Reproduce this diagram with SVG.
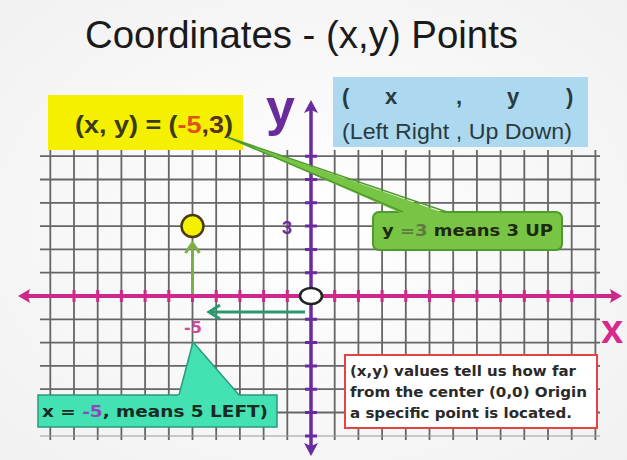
<svg xmlns="http://www.w3.org/2000/svg" width="627" height="460" viewBox="0 0 627 460">
  <style>
    .grid { stroke: #666; stroke-width: 1.8; fill: none; }
    .comic { font-family: "DejaVu Sans", "Liberation Sans", sans-serif; font-weight: bold; }
    .arial { font-family: "Liberation Sans", Arial, sans-serif; }
  </style>
  <defs>
    <radialGradient id="bg" cx="50%" cy="50%" r="70%">
      <stop offset="0" stop-color="#ffffff"/>
      <stop offset="1" stop-color="#f1f1f1"/>
    </radialGradient>
  </defs>
  <rect width="627" height="460" fill="url(#bg)"/>

  <g id="title">
    <text class="arial" x="85" y="48" font-size="39" fill="#1a1a1a" textLength="433" lengthAdjust="spacingAndGlyphs">Coordinates - (x,y) Points</text>
  </g>

  <g id="grid">
    <path class="grid" d="M50.3 150V440M74 150V440M97.7 150V440M121.4 150V440M145.1 150V440M168.8 150V440M192.5 150V440M216.2 150V440M239.9 150V440M263.6 150V440M287.3 150V440M334.7 150V440M358.4 150V440M382.1 150V440M405.8 150V440M429.5 150V440M453.2 150V440M476.9 150V440M500.6 150V440M524.3 150V440M548 150V440M571.7 150V440M595.4 150V440"/>
    <path class="grid" d="M40 156.2H600M40 179.5H600M40 202.8H600M40 226.1H600M40 249.4H600M40 272.7H600M40 319.3H600M40 342.6H600M40 365.9H600M40 389.2H600M40 412.5H600"/>
    <path d="M40 436H600" stroke="#999" stroke-width="1" fill="none"/>
  </g>

  <g id="yellow-label">
    <rect x="48" y="95" width="195" height="55" fill="#f4f000"/>
    <text class="arial" x="75" y="133" font-size="24" font-weight="bold" fill="#3a3a18" textLength="158" lengthAdjust="spacingAndGlyphs">(x, y) = (<tspan fill="#e2501c">-5</tspan><tspan fill="#5a3020">,3</tspan>)</text>
  </g>

  <g id="blue-box">
    <rect x="333" y="77" width="255" height="70" fill="#acd9ef"/>
    <g class="arial" font-size="22" font-weight="bold" fill="#2a3a40">
      <text x="342" y="104">(</text>
      <text x="385" y="104">x</text>
      <text x="456" y="104">,</text>
      <text x="507" y="104">y</text>
      <text x="566" y="104">)</text>
    </g>
    <text class="arial" x="342" y="139" font-size="22" fill="#2a3a40" textLength="230" lengthAdjust="spacingAndGlyphs">(Left Right , Up Down)</text>
  </g>

  <g id="axes">
    <g id="x-axis">
      <path d="M26 296H612" stroke="#cc2a8a" stroke-width="4" fill="none"/>
      <path d="M18 296L30 289L28 296L30 303Z M622 296L610 289L612 296L610 303Z" fill="#cc2a8a"/>
      <path d="M74 290V302M97.7 290V302M121.4 290V302M145.1 290V302M168.8 290V302M192.5 290V302M216.2 290V302M239.9 290V302M263.6 290V302M287.3 290V302M334.7 290V302M358.4 290V302M382.1 290V302M405.8 290V302M429.5 290V302M453.2 290V302M476.9 290V302M500.6 290V302M524.3 290V302M548 290V302M571.7 290V302" stroke="#cc2a8a" stroke-width="3" fill="none"/>
      <text class="arial" x="601" y="343" font-size="40" font-weight="bold" fill="#d62a8a">x</text>
    </g>
    <g id="y-axis">
      <path d="M311 110V448" stroke="#6a2aa0" stroke-width="3.5" fill="none"/>
      <path d="M311 100L304 113L311 110L318 113Z M311 456L304 443L311 446L318 443Z" fill="#6a2aa0"/>
      <path d="M305 156.2H317M305 179.5H317M305 202.8H317M305 226.1H317M305 249.4H317M305 272.7H317M305 319.3H317M305 342.6H317M305 365.9H317M305 389.2H317M305 412.5H317M305 436H317" stroke="#6a2aa0" stroke-width="3" fill="none"/>
      <text class="arial" x="266" y="125" font-size="52" font-weight="bold" fill="#6a2c9c">y</text>
      <text class="arial" x="282" y="234" font-size="18" font-weight="bold" fill="#6a2c9c">3</text>
    </g>
  </g>

  <g id="origin">
    <ellipse cx="311" cy="296" rx="11" ry="8" fill="#ffffff" stroke="#222" stroke-width="2.5"/>
  </g>

  <g id="point">
    <circle cx="192.5" cy="226.1" r="11" fill="#f5ef00" stroke="#4a3a10" stroke-width="2.5"/>
  </g>

  <g id="connectors">
    <g id="up-arrow" stroke="#7ab040" stroke-width="3" fill="none">
      <path d="M192.5 294V244"/>
      <path d="M185.5 253L192.5 243L199.5 253"/>
    </g>
    <g id="left-arrow" stroke="#2a9a6e" stroke-width="3" fill="none">
      <path d="M305 312H210"/>
      <path d="M220 305L209 312L220 319"/>
    </g>
  </g>

  <g id="minus5-label">
    <text class="comic" x="184" y="333" font-size="16" fill="#d24a92">-5</text>
  </g>

  <g id="green-callout">
    <rect x="373" y="212" width="189" height="38" rx="6" fill="#78c444" stroke="#4f9a2c" stroke-width="2"/>
    <polygon points="227,137 447,214 403,214" fill="#78c444"/>
    <path d="M227 137L403 212M227 137L447 212" stroke="#4f9a2c" stroke-width="1.5" fill="none"/>
    <text class="comic" x="382" y="236" font-size="16" fill="#1e2a10" textLength="171" lengthAdjust="spacingAndGlyphs">y <tspan fill="#5e7a40">=3</tspan>  means 3 UP</text>
  </g>

  <g id="teal-callout">
    <rect x="38" y="395" width="239" height="32" fill="#44e2b2" stroke="#2a9a80" stroke-width="1.5"/>
    <polygon points="193,342 178,397 240,397" fill="#44e2b2"/>
    <path d="M193 342L179 395M193 342L239 395" stroke="#2a9a80" stroke-width="1.5" fill="none"/>
    <text class="comic" x="42" y="417" font-size="16" fill="#1a2a24" textLength="226" lengthAdjust="spacingAndGlyphs">x  =  <tspan fill="#8a48bc">-5</tspan>, means 5 LEFT)</text>
  </g>

  <g id="red-note">
    <rect x="345" y="355" width="252" height="73" fill="#ffffff" stroke="#e04444" stroke-width="2"/>
    <g class="comic" font-size="14" fill="#2a2a2a">
      <text x="350" y="376" textLength="226" lengthAdjust="spacingAndGlyphs">(x,y) values tell us how far</text>
      <text x="350" y="397" textLength="237" lengthAdjust="spacingAndGlyphs">from the center (0,0) Origin</text>
      <text x="350" y="418" textLength="222" lengthAdjust="spacingAndGlyphs">a specific point is located.</text>
    </g>
  </g>
</svg>
